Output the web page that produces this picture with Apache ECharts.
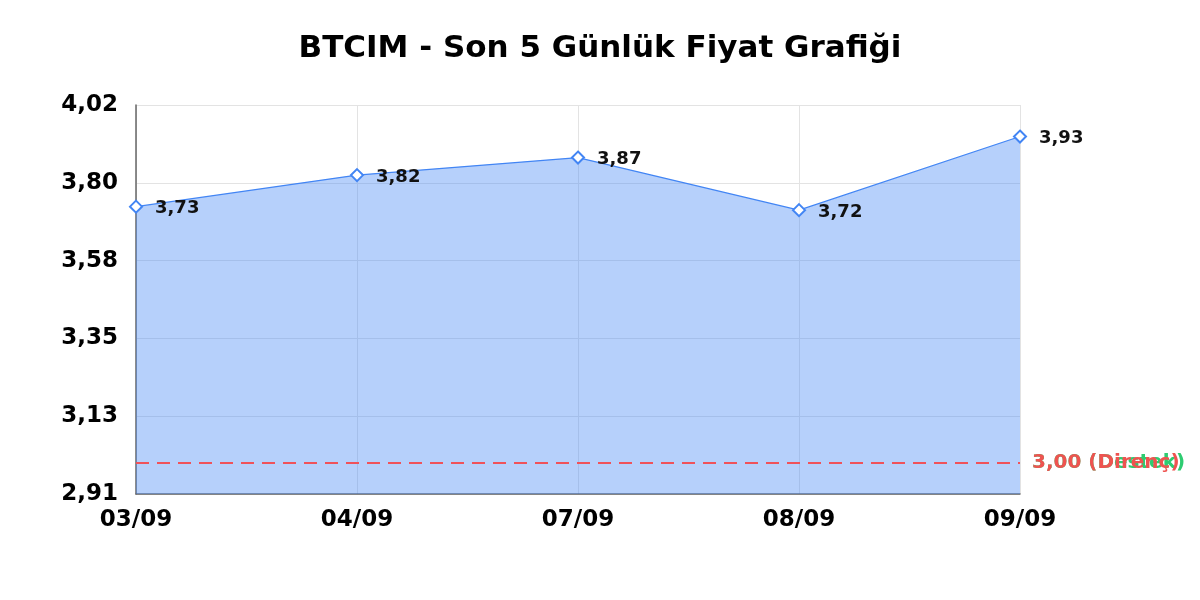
<!DOCTYPE html>
<html>
<head>
<meta charset="utf-8">
<title>BTCIM</title>
<script src="https://cdn.jsdelivr.net/npm/echarts@6/dist/echarts.min.js"></script>
<style>
  html, body { margin: 0; padding: 0; background: #fff; }
  #main { width: 1200px; height: 600px; }
</style>
</head>
<body>
<div id="main"></div>
<script>
// data
var days = ['03/09', '04/09', '07/09', '08/09', '09/09'];
var prices = [3.73, 3.82, 3.87, 3.72, 3.93];
var supportLevel = 3.00;
var resistanceLevel = 3.00;
var yMin = 2.91;
var yMax = 4.02;

function fmt(v) {
  return Number(v).toFixed(2).replace('.', ',');
}

var myChart = echarts.init(document.getElementById('main'));

var option = {
  backgroundColor: '#fff',
  textStyle: { fontFamily: 'DejaVu Sans' },
  title: {
    text: 'BTCIM - Son 5 Günlük Fiyat Grafiği',
    left: 'center',
    top: 28,
    textStyle: { fontSize: 31, fontWeight: 'bold', color: '#000', fontFamily: 'DejaVu Sans' }
  },
  grid: { left: 136, right: 180, top: 105, bottom: 106 },
  xAxis: {
    type: 'category',
    boundaryGap: false,
    data: days,
    axisLine: { lineStyle: { color: '#666', width: 1.5 } },
    axisTick: { show: false },
    axisLabel: { color: '#000', fontWeight: 'bold', fontSize: 23, margin: 15 },
    splitLine: { show: true, lineStyle: { color: '#e3e3e3' } }
  },
  yAxis: {
    type: 'value',
    min: yMin,
    max: yMax,
    interval: (yMax - yMin) / 5,
    axisLine: { show: true, lineStyle: { color: '#666', width: 1.5 } },
    axisTick: { show: false },
    axisLabel: { color: '#000', fontWeight: 'bold', fontSize: 23, margin: 18, formatter: fmt },
    splitLine: { lineStyle: { color: '#e3e3e3' } }
  },
  series: [
    {
      type: 'line',
      data: prices,
      symbol: 'emptyDiamond',
      symbolSize: 12,
      lineStyle: { color: '#4285f4', width: 1.2 },
      itemStyle: { color: '#4285f4', borderWidth: 2 },
      areaStyle: { color: '#4285f4', opacity: 0.39 },
      label: {
        show: true,
        position: 'right',
        distance: 12,
        offset: [0, 2],
        color: '#111',
        fontWeight: 'bold',
        fontSize: 18,
        formatter: function (p) { return fmt(p.value); }
      },
      markLine: {
        silent: true,
        symbol: 'none',
        data: [
          {
            yAxis: supportLevel,
            lineStyle: { color: '#2ecc71', type: [13, 8], width: 1 },
            label: { formatter: fmt(supportLevel) + ' (Destek)', color: '#2ecc71' }
          },
          {
            yAxis: resistanceLevel,
            lineStyle: { color: '#f0525a', type: [13, 8], width: 2 },
            label: { formatter: fmt(resistanceLevel) + ' (Direnç)', color: '#ef5350' }
          }
        ],
        label: { position: 'end', fontWeight: 'bold', fontSize: 20, distance: 12 }
      }
    }
  ]
};

myChart.setOption(option);
</script>
</body>
</html>
